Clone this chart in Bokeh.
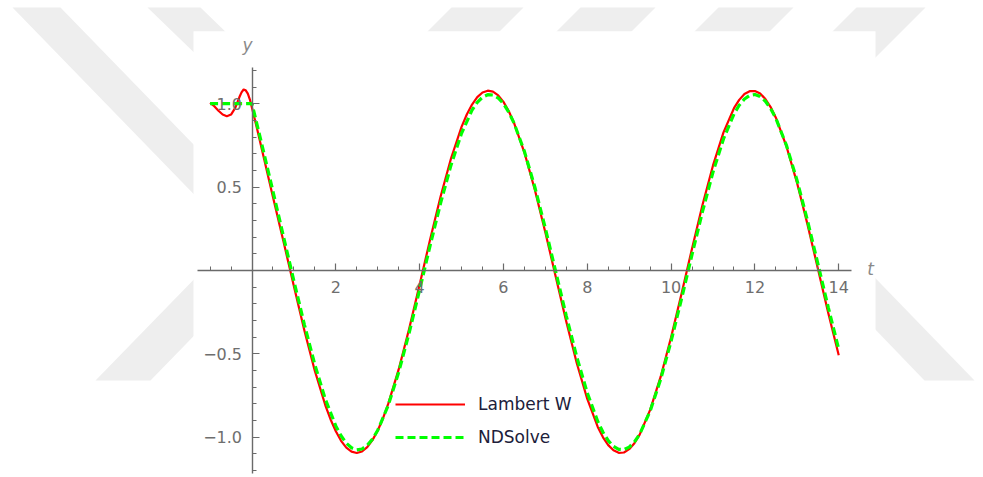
from bokeh.plotting import figure
from bokeh.models import Range1d, FixedTicker, Label
from bokeh.embed import file_html
from bokeh.resources import INLINE

# ---------------- data ----------------
t_lambert = [-1.0, -0.9, -0.8, -0.7, -0.6, -0.5, -0.4, -0.3, -0.25, -0.2, -0.15, -0.1, -0.05,
             0.0, 0.125, 0.25, 0.5, 0.75,
             1.0, 1.25, 1.5, 1.75, 1.875, 2.0, 2.125, 2.25, 2.375, 2.5,
             2.625, 2.75, 2.875, 3.0, 3.125, 3.25, 3.5, 3.75, 4.0, 4.25,
             4.5, 4.75, 5.0, 5.125, 5.25, 5.375, 5.5, 5.625, 5.75, 5.875,
             6.0, 6.125, 6.25, 6.5, 6.75, 7.0, 7.25, 7.5, 7.75, 8.0,
             8.25, 8.375, 8.5, 8.625, 8.75, 8.875, 9.0, 9.125, 9.25, 9.5,
             9.75, 10.0, 10.25, 10.5, 10.75, 11.0, 11.25, 11.5, 11.625, 11.75,
             11.875, 12.0, 12.125, 12.25, 12.375, 12.5, 12.75, 13.0, 13.25, 13.5,
             13.75, 14.0]
y_lambert = [1.005, 0.985, 0.958, 0.935, 0.925, 0.935, 0.975, 1.04, 1.068, 1.085, 1.08, 1.06, 1.025,
             0.975, 0.845, 0.71, 0.44, 0.175,
             -0.095, -0.359, -0.602, -0.808, -0.893, -0.964, -1.021, -1.062, -1.086, -1.094,
             -1.085, -1.059, -1.017, -0.959, -0.887, -0.800, -0.593, -0.349, -0.084, 0.186,
             0.444, 0.673, 0.861, 0.935, 0.995, 1.039, 1.067, 1.078, 1.072, 1.050,
             1.011, 0.956, 0.886, 0.707, 0.483, 0.228, -0.040, -0.307, -0.556, -0.770,
             -0.938, -1.000, -1.047, -1.078, -1.093, -1.091, -1.071, -1.036, -0.984, -0.836,
             -0.638, -0.400, -0.138, 0.132, 0.394, 0.630, 0.828, 0.973, 1.023, 1.058,
             1.075, 1.076, 1.061, 1.028, 0.980, 0.916, 0.746, 0.530, 0.281, 0.014,
             -0.255, -0.508]

t_ndsolve = [-1.0, 0.0, 0.25, 0.5, 0.75,
             1.0, 1.25, 1.5, 1.75, 2.0, 2.125, 2.25, 2.375, 2.5, 2.625,
             2.75, 2.875, 3.0, 3.25, 3.5, 3.75, 4.0, 4.25, 4.5, 4.75,
             5.0, 5.25, 5.375, 5.5, 5.625, 5.75, 5.875, 6.0, 6.125, 6.25,
             6.5, 6.75, 7.0, 7.25, 7.5, 7.75, 8.0, 8.25, 8.375, 8.5,
             8.625, 8.75, 8.875, 9.0, 9.125, 9.25, 9.5, 9.75, 10.0, 10.25,
             10.5, 10.75, 11.0, 11.25, 11.5, 11.625, 11.75, 11.875, 12.0, 12.125,
             12.25, 12.375, 12.5, 12.75, 13.0, 13.25, 13.5, 13.75, 14.0]
y_ndsolve = [1.0, 1.0, 0.74, 0.475, 0.205,
             -0.063, -0.324, -0.565, -0.772, -0.932, -0.991, -1.035, -1.063, -1.075, -1.070,
             -1.048, -1.011, -0.958, -0.809, -0.610, -0.374, -0.116, 0.149, 0.404, 0.633,
             0.823, 0.961, 1.008, 1.039, 1.054, 1.052, 1.034, 1.000, 0.950, 0.885,
             0.714, 0.499, 0.253, -0.010, -0.273, -0.519, -0.734, -0.905, -0.970, -1.020,
             -1.054, -1.072, -1.074, -1.059, -1.028, -0.981, -0.843, -0.653, -0.424, -0.169,
             0.096, 0.354, 0.590, 0.789, 0.938, 0.991, 1.028, 1.050, 1.055, 1.043,
             1.015, 0.971, 0.912, 0.752, 0.545, 0.304, 0.043, -0.221, -0.472]

x_major_ticks = [2, 4, 6, 8, 10, 12, 14]
x_minor_ticks = [-1.0, -0.5, 0.5, 1.0, 1.5, 2.5, 3.0, 3.5, 4.5, 5.0, 5.5, 6.5, 7.0, 7.5,
                 8.5, 9.0, 9.5, 10.5, 11.0, 11.5, 12.5, 13.0, 13.5]
y_major_ticks = [-1.0, -0.5, 0.5, 1.0]
y_major_labels = ["−1.0", "−0.5", "0.5", "1.0"]
y_minor_ticks = [-1.2, -1.1, -0.9, -0.8, -0.7, -0.6, -0.4, -0.3, -0.2, -0.1,
                 0.1, 0.2, 0.3, 0.4, 0.6, 0.7, 0.8, 0.9, 1.1, 1.2]
series_names = ["Lambert W", "NDSolve"]

# ---------------- layout / style ----------------
W, H = 983, 477
OX, OY = 251.5, 270.0      # pixel of the origin
SX, SY = 41.91, 166.8      # pixels per unit


def px(x, y):
    """page pixel -> data coordinates (used only for decoration)"""
    return (x - OX) / SX, (OY - y) / SY


p = figure(width=W, height=H,
           x_range=Range1d(-OX / SX, (W - OX) / SX),
           y_range=Range1d((OY - H) / SY, OY / SY),
           output_backend="svg", toolbar_location=None,
           min_border=0, outline_line_color=None,
           background_fill_color="white", border_fill_color="white")
p.grid.visible = False

# faint watermark in the background of the page
wm_shapes = [
    [(12, 7), (60, 7), (330, 285), (282, 285)],
    [(147, 7), (200, 7), (260, 65), (207, 65)],
    [(95, 380), (150, 380), (260, 267), (205, 267)],
    [(451, 7), (523, 7), (490, 40), (418, 40)],
    [(580, 7), (655, 7), (622, 40), (547, 40)],
    [(718, 7), (793, 7), (760, 40), (685, 40)],
    [(856, 7), (925, 7), (860, 72), (791, 72)],
    [(820, 221), (974, 380), (924, 380), (820, 272)],
]
xs, ys = [], []
for shp in wm_shapes:
    pts = [px(a, b) for a, b in shp]
    xs.append([q[0] for q in pts])
    ys.append([q[1] for q in pts])
p.patches(xs, ys, fill_color="#eeeeee", line_color=None)

# white panel of the plot
l, tp = px(193, 30.7)
r, bt = px(875, 480)
p.quad(left=l, right=r, top=tp, bottom=bt, fill_color="white", line_color=None)

# curves
p.line(t_lambert, y_lambert, line_color="#ff0000", line_width=2.2,
       line_join="round", legend_label=series_names[0])
p.line(t_ndsolve, y_ndsolve, line_color="#00ff00", line_width=3.2,
       line_dash="8 4", legend_label=series_names[1])

# axes through the origin (Mathematica style)
for ax in (p.xaxis, p.yaxis):
    ax.fixed_location = 0
    ax.axis_line_color = "#6a6a6a"
    ax.axis_line_width = 1.4
    ax.major_tick_line_color = "#6a6a6a"
    ax.minor_tick_line_color = "#6a6a6a"
    ax.major_tick_line_width = 1.2
    ax.minor_tick_line_width = 1.0
    ax.major_tick_in = 7
    ax.major_tick_out = 0
    ax.minor_tick_in = 4
    ax.minor_tick_out = 0
    ax.major_label_text_font = "DejaVu Sans"
    ax.major_label_text_font_size = "16px"
    ax.major_label_text_color = "#6e6e6e"
    ax.major_label_standoff = 10

p.xaxis.bounds = (-1.3, 14.3)
p.yaxis.bounds = (-1.22, 1.22)
p.xaxis.ticker = FixedTicker(ticks=x_major_ticks, minor_ticks=x_minor_ticks)
p.yaxis.ticker = FixedTicker(ticks=y_major_ticks, minor_ticks=y_minor_ticks)
p.yaxis.major_label_overrides = {v: s for v, s in zip(y_major_ticks, y_major_labels)}

# axis names
for txt, (ax_, ay_) in (("y", px(247, 44)), ("t", px(870, 268))):
    p.add_layout(Label(x=ax_, y=ay_, text=txt, text_font="DejaVu Sans",
                       text_font_style="italic", text_font_size="17px",
                       text_color="#8a8a8a", text_align="center",
                       text_baseline="middle"))

# legend
lg = p.legend[0]
lg.location = (395, 30)
lg.padding = 0
lg.margin = 0
lg.spacing = 13
lg.glyph_width = 70
lg.glyph_height = 20
lg.label_height = 20
lg.label_standoff = 13
lg.label_text_font = "DejaVu Sans"
lg.label_text_font_size = "17px"
lg.label_text_color = "#20203a"
lg.border_line_alpha = 0
lg.background_fill_alpha = 0

open("out.html", "w").write(file_html(p, INLINE))
